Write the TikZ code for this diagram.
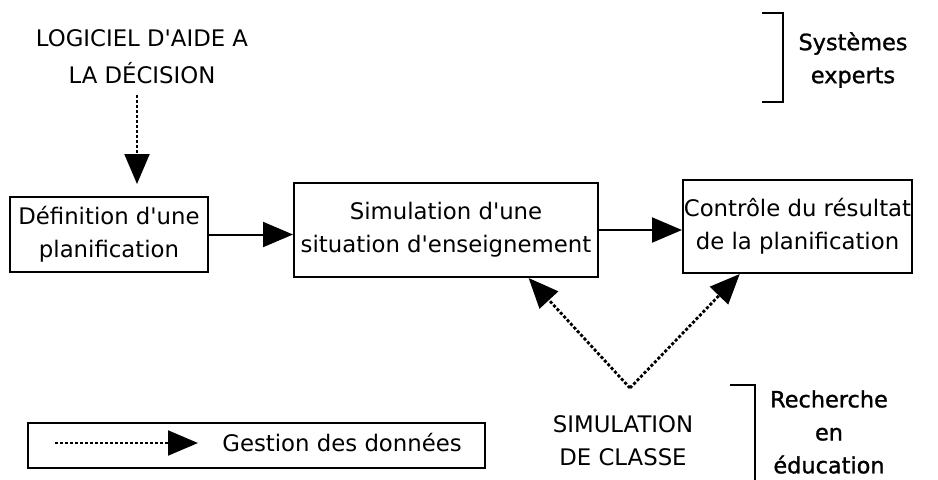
\documentclass[tikz,border=0pt]{standalone}
\usepackage{fontspec}
\setmainfont{DejaVu Sans}[Ligatures=TeXOff]
\newfontfamily\domfont{DejaVu Sans}[Ligatures=TeXOff, FakeBold=1.2]
\usetikzlibrary{arrows.meta,calc}

\begin{document}
\begin{tikzpicture}[x=0.5pt,y=-0.5pt,
        lab/.style={align=center, inner sep=0pt, font=\fontsize{11.4}{16.5}\selectfont},
        box/.style={lab, draw, line width=1pt},
        dom/.style={align=center, inner sep=0pt, font=\domfont\fontsize{11.2}{16.5}\selectfont},
        flow/.style={line width=1pt, -{Triangle[length=15pt,width=12.5pt]}},
        data/.style={line width=1pt, dash pattern=on 1.5pt off 1pt, -{Triangle[length=15pt,width=12.5pt]}}]
        \useasboundingbox (0,0) rectangle (938,479);

        % chaine principale
        \node[box, minimum width=99pt, minimum height=37.5pt] (def) at (109,234.5) {Définition d'une\\planification};
        \node[box, minimum width=152pt, minimum height=47pt] (sim) at (446,230) {Simulation d'une\\situation d'enseignement};
        \node[box, minimum width=114.5pt, minimum height=46.5pt] (ctrl) at (797.5,226.5) {Contrôle du résultat\\de la planification};

        \draw[flow] (def.east) -- (def.east -| sim.west);
        \draw[flow] (sim.east) -- (sim.east -| ctrl.west);

        % aide a la decision
        \node[lab, font=\fontsize{11.4}{18.5}\selectfont] (logiciel) at (142,57) {LOGICIEL D'AIDE A\\LA DÉCISION};
        \coordinate (aide) at (137,95);
        \draw[data] (aide) -- ([yshift=6pt]aide |- def.north);

        % simulation de classe
        \node[lab] (classe) at (623,441) {SIMULATION\\DE CLASSE};
        \coordinate (apex) at (630,388);
        \draw[data, line width=1.4pt] (apex) -- ($(sim.south west)!0.77!(sim.south east)$);
        \draw[data, line width=1.4pt] (apex) -- ($(ctrl.south west)!0.25!(ctrl.south east)$);

        % legende
        \node[draw, line width=1pt, minimum width=228.5pt, minimum height=22.5pt] (legende) at (256.5,445.5) {};
        \coordinate (l0) at (55,443);
        \coordinate (l1) at (198,443);
        \draw[data] (l0) -- (l1);
        \node[lab, anchor=west] (gestion) at (222,443) {Gestion des données};

        % domaines
        \draw[line width=1pt] (762,13) -- (783,13) -- (783,102) -- (762,102);
        \node[dom] (systemes) at (853,60) {Systèmes\\experts};
        \draw[line width=1pt] (730,385) -- (755,385) -- (755,485);
        \node[dom] (recherche) at (829,432) {Recherche\\en\\éducation};
\end{tikzpicture}
\end{document}
